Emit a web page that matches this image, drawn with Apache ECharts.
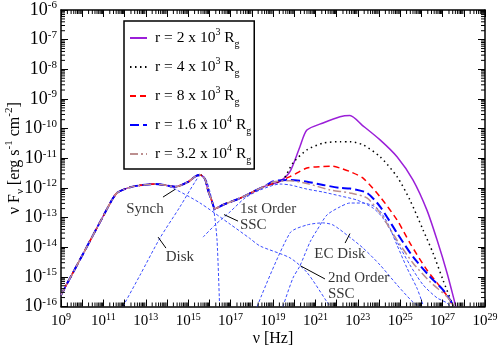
<!DOCTYPE html>
<html><head><meta charset="utf-8">
<script src="https://cdn.jsdelivr.net/npm/echarts@6/dist/echarts.min.js"></script>
<style>html,body{margin:0;padding:0;background:#fff}#c{width:499px;height:345px}</style>
</head><body><div id="c"></div>
<script>
// ---- values (log10 of nu [Hz] and log10 of nuF_nu) ----
const commonLogNu = [9.0, 10.0, 11.0, 11.4, 11.64, 12.0, 12.49, 13.0, 13.43, 14.0, 14.4, 14.99, 15.32, 15.56, 15.79, 15.93, 16.12, 16.26, 16.40, 16.71, 17.44, 18.23, 18.6];
const commonLogF  = [-15.61, -14.28, -12.94, -12.41, -12.17, -12.04, -11.94, -11.89, -11.87, -11.92, -11.96, -11.80, -11.62, -11.56, -11.70, -12.07, -12.45, -12.71, -12.66, -12.55, -12.35, -12.07, -11.95];

const r1LogNu = [19.0, 19.33, 19.80, 20.27, 20.60, 21.36, 22.16, 22.63, 23.20, 24.05, 24.85, 25.60, 26.26, 26.74, 27.21, 27.58, 27.62];
const r1LogF  = [-11.86, -11.78, -11.45, -10.61, -10.05, -9.81, -9.60, -9.56, -9.88, -10.38, -10.95, -11.73, -12.75, -13.76, -14.87, -15.88, -16.0];
const r2LogNu = [19.0, 19.47, 19.94, 20.60, 21.36, 22.16, 22.63, 23.25, 24.05, 24.85, 25.46, 26.08, 26.55, 27.02, 27.44, 27.50];
const r2LogF  = [-11.86, -11.73, -11.16, -10.72, -10.49, -10.44, -10.44, -10.55, -10.95, -11.62, -12.41, -13.42, -14.20, -15.11, -15.88, -16.0];
const r3LogNu = [19.0, 19.80, 20.60, 21.36, 21.8, 22.16, 22.63, 23.25, 24.05, 24.85, 25.46, 26.26, 26.88, 27.35, 27.45];
const r3LogF  = [-11.85, -11.62, -11.33, -11.28, -11.27, -11.33, -11.45, -11.67, -12.30, -13.08, -13.86, -14.77, -15.33, -15.78, -16.0];
const r4LogNu = [19.0, 19.80, 20.60, 21.36, 22.16, 22.63, 23.43, 24.05, 24.85, 25.60, 26.40, 27.02, 27.44, 27.50];
const r4LogF  = [-11.78, -11.73, -11.79, -11.90, -12.00, -12.02, -12.17, -12.63, -13.52, -14.32, -14.99, -15.44, -15.88, -16.0];
const r5LogNu = [19.0, 19.80, 20.60, 21.69, 22.63, 23.43, 24.05, 24.85, 25.60, 26.40, 27.21, 27.44, 27.50];
const r5LogF  = [-11.80, -11.76, -11.85, -12.07, -12.17, -12.34, -12.85, -13.76, -14.53, -15.16, -15.67, -15.88, -16.0];

const synchLogNu = [9.0, 10.0, 11.0, 11.4, 11.64, 12.0, 12.49, 13.0, 13.43, 14.0, 14.46, 15.56, 16.97, 17.9, 18.39, 19.80, 20.60, 21.55, 21.70];
const synchLogF  = [-15.61, -14.28, -12.94, -12.41, -12.17, -12.04, -11.94, -11.89, -11.87, -11.93, -12.07, -12.51, -13.22, -13.70, -13.96, -14.36, -14.85, -15.85, -16.0];
const diskLogNu = [11.92, 12.73, 13.67, 14.61, 15.32, 15.60, 15.84, 16.03, 16.22, 16.36, 16.48];
const diskLogF  = [-16.0, -14.94, -13.69, -12.64, -11.80, -11.56, -11.73, -12.14, -12.81, -13.76, -15.98];
const ssc1LogNu = [15.70, 16.31, 16.97, 17.68, 18.39, 19.33, 19.80, 20.60, 21.36, 22.16, 22.96, 23.72, 24.19, 24.85, 25.46, 26.08, 26.74, 27.21, 27.35];
const ssc1LogF  = [-13.66, -13.22, -12.81, -12.34, -12.07, -11.87, -11.90, -12.04, -12.14, -12.27, -12.41, -12.68, -13.02, -13.82, -14.60, -15.27, -15.71, -15.88, -16.0];
const ssc2LogNu = [19.47, 19.94, 20.27, 20.75, 21.08, 21.55, 22.16, 22.63, 23.25, 23.91, 24.38, 24.85, 25.32, 25.79, 26.08];
const ssc2LogF  = [-16.0, -15.04, -14.63, -13.82, -13.42, -12.91, -12.64, -12.51, -12.51, -12.68, -13.15, -13.93, -14.70, -15.38, -15.95];
const ecDiskLogNu = [18.25, 19.80, 20.60, 21.36, 21.83, 22.49, 23.25, 24.05, 24.85, 25.60, 25.93];
const ecDiskLogF  = [-16.0, -13.52, -13.25, -13.18, -13.25, -13.59, -14.03, -14.60, -15.27, -15.85, -16.0];

const legendNames = ['r = 2 x 10^3', 'r = 4 x 10^3', 'r = 8 x 10^3', 'r = 1.6 x 10^4', 'r = 3.2 x 10^4'];
const legendMain  = ['r = 2 x 10', 'r = 4 x 10', 'r = 8 x 10', 'r = 1.6 x 10', 'r = 3.2 x 10'];
const legendExp   = ['3', '3', '3', '4', '4'];

const noteTexts  = ['Synch', 'Disk', '1st Order\nSSC', 'EC Disk', '2nd Order\nSSC'];
const noteLogNu  = [12.96, 14.61, 17.44, 22.16, 21.59];
const noteLogF   = [-12.71, -14.32, -12.98, -14.24, -15.32];
const noteAlign  = ['center', 'center', 'left', 'center', 'left'];
const arrowTail  = [[13.81, -12.31], [13.95, -14.03], [17.35, -13.12], [22.40, -13.86], [21.45, -15.07]];
const arrowTip   = [[14.38, -12.05], [13.58, -13.66], [16.69, -12.90], [22.63, -13.54], [20.30, -14.63]];

const xMinLog = 9, xMaxLog = 29, yMinLog = -16, yMaxLog = -6;

// ---- build ----
const P = v => Math.pow(10, v);
const pts = (lx, ly) => lx.map((x, i) => [P(x), P(ly[i])]);
const total = (lx, ly) => pts(commonLogNu.concat(lx), commonLogF.concat(ly));

const serif = 'Liberation Serif, Times New Roman, serif';
const xMinor = [], yMinor = [];
for (let d = xMinLog; d < xMaxLog; d++) for (let m = 2; m <= 9; m++) xMinor.push([m * P(d), P(yMinLog)]);
for (let d = yMinLog; d < yMaxLog; d++) for (let m = 2; m <= 9; m++) yMinor.push([P(xMinLog), m * P(d)]);

function expOf(v) { return Math.log10(v); }
function xLab(v) { const e = expOf(v), r = Math.round(e); if (Math.abs(e - r) > 1e-6 || (r % 2) === 0) return ''; return '{b|10}{s|' + r + '}'; }
function yLab(v) { const e = expOf(v), r = Math.round(e); if (Math.abs(e - r) > 1e-6) return ''; return '{b|10}{s|' + r + '}'; }

const axisCommon = {
  type: 'log', logBase: 10, interval: 1,
  axisLine: { onZero: false, lineStyle: { color: '#000', width: 1.5 } },
  axisTick: { inside: true, length: 7, interval: 0, lineStyle: { color: '#000', width: 1 } },
  splitLine: { show: false },
  minorTick: { show: false }
};

const compStyle = { color: '#3a4cff', width: 1, type: [3, 2] };
function comp(name, lx, ly) {
  return { name, type: 'line', data: pts(lx, ly), symbol: 'none', smooth: 0.25, lineStyle: compStyle, z: 2, silent: true };
}
function tot(name, lx, ly, color, width, type, z) {
  return { name, type: 'line', data: total(lx, ly), symbol: 'none', smooth: 0.25,
    itemStyle: { color }, lineStyle: { color, width, type }, z };
}

const chart = echarts.init(document.getElementById('c'), null, { renderer: 'canvas' });
chart.setOption({
  animation: false,
  backgroundColor: '#fff',
  grid: { left: 61, right: 14, top: 10, bottom: 38.5, containLabel: false, outerBoundsMode: 'none' },
  xAxis: [
    Object.assign({}, axisCommon, {
      position: 'bottom', min: P(xMinLog), max: P(xMaxLog), splitNumber: 20,
      axisLabel: { interval: 0, margin: 6, color: '#000', showMinLabel: true, showMaxLabel: true, hideOverlap: false,
        formatter: xLab,
        rich: { b: { fontFamily: serif, fontSize: 15, lineHeight: 18, color: '#000' },
                s: { fontFamily: serif, fontSize: 10, lineHeight: 10, verticalAlign: 'top', color: '#000' } } },
      name: 'ν [Hz]', nameLocation: 'middle', nameGap: 24, nameMoveOverlap: false,
      nameTextStyle: { fontFamily: serif, fontSize: 16, color: '#000' }
    }),
    Object.assign({}, axisCommon, {
      position: 'top', min: P(xMinLog), max: P(xMaxLog), splitNumber: 20,
      axisLabel: { show: false }
    })
  ],
  yAxis: [
    Object.assign({}, axisCommon, {
      position: 'left', min: P(yMinLog), max: P(yMaxLog), splitNumber: 10,
      axisLabel: { interval: 0, margin: 4, color: '#000', showMinLabel: true, showMaxLabel: true, hideOverlap: false,
        formatter: yLab,
        rich: { b: { fontFamily: serif, fontSize: 18, lineHeight: 20, color: '#000' },
                s: { fontFamily: serif, fontSize: 11, lineHeight: 11, verticalAlign: 'top', color: '#000' } } },
      name: '{t|ν F}{d|ν}{t| [erg s}{u|-1}{t| cm}{u|-2}{t|]}', nameLocation: 'middle', nameGap: 35, nameRotate: 90,
      nameMoveOverlap: false,
      nameTextStyle: { fontFamily: serif, fontSize: 16, color: '#000',
        rich: { t: { fontFamily: serif, fontSize: 16, lineHeight: 22, color: '#000' },
                d: { fontFamily: serif, fontSize: 11, lineHeight: 11, verticalAlign: 'bottom', color: '#000' },
                u: { fontFamily: serif, fontSize: 11, lineHeight: 11, verticalAlign: 'top', color: '#000' } } }
    }),
    Object.assign({}, axisCommon, {
      position: 'right', min: P(yMinLog), max: P(yMaxLog), splitNumber: 10,
      axisLabel: { show: false }
    })
  ],
  legend: {
    data: legendNames, orient: 'vertical', left: 124, top: 21,
    backgroundColor: '#fff', borderColor: '#000', borderWidth: 1.5, borderRadius: 0,
    padding: [6, 3, 4, 5], itemGap: 7, itemWidth: 17, itemHeight: 10,
    itemStyle: { opacity: 0 },
    formatter: name => { const i = legendNames.indexOf(name); return '{t|' + legendMain[i] + '}{u|' + legendExp[i] + '}{t| R}{d|g}'; },
    textStyle: { padding: [0, 0, 0, 3], color: '#000',
      rich: { t: { fontFamily: serif, fontSize: 15.5, lineHeight: 22, color: '#000' },
              u: { fontFamily: serif, fontSize: 10, lineHeight: 10, verticalAlign: 'top', color: '#000' },
              d: { fontFamily: serif, fontSize: 10, lineHeight: 10, verticalAlign: 'bottom', color: '#000' } } }
  },
  series: [
    comp('synch', synchLogNu, synchLogF),
    comp('disk', diskLogNu, diskLogF),
    comp('ssc1', ssc1LogNu, ssc1LogF),
    comp('ssc2', ssc2LogNu, ssc2LogF),
    comp('ecdisk', ecDiskLogNu, ecDiskLogF),
    tot(legendNames[0], r1LogNu, r1LogF, '#9b1fd8', 1.5, 'solid', 5),
    tot(legendNames[1], r2LogNu, r2LogF, '#000000', 1.5, [1.5, 3.5], 6),
    tot(legendNames[2], r3LogNu, r3LogF, '#ff0000', 1.5, [6, 4], 7),
    tot(legendNames[3], r4LogNu, r4LogF, '#0000ff', 2, [9, 4], 8),
    tot(legendNames[4], r5LogNu, r5LogF, '#bc8f8f', 1.5, [8, 3, 2, 3], 9),
    {
      name: 'notes', type: 'scatter', symbolSize: 0, z: 10, silent: true,
      data: noteTexts.map((t, i) => ({ value: [P(noteLogNu[i]), P(noteLogF[i])],
        label: { show: true, position: 'inside', formatter: t, align: noteAlign[i], verticalAlign: 'middle',
          fontFamily: serif, fontSize: 15, lineHeight: 16, color: '#000' } })),
      markLine: { silent: true, animation: false, symbol: ['none', 'arrow'], symbolSize: [0, 7], precision: 20,
        label: { show: false }, lineStyle: { color: '#000', width: 1, type: 'solid' },
        data: arrowTail.map((a, i) => [{ coord: [P(a[0]), P(a[1])] }, { coord: [P(arrowTip[i][0]), P(arrowTip[i][1])] }]) }
    },
    {
      name: 'xminor', type: 'custom', silent: true, clip: false, data: xMinor, z: 11,
      renderItem: (params, api) => {
        const b = api.coord([api.value(0), P(yMinLog)]);
        const t = api.coord([api.value(0), P(yMaxLog)]);
        return { type: 'group', children: [
          { type: 'line', shape: { x1: b[0], y1: b[1], x2: b[0], y2: b[1] - 4 }, style: { stroke: '#000', lineWidth: 1 } },
          { type: 'line', shape: { x1: t[0], y1: t[1], x2: t[0], y2: t[1] + 4 }, style: { stroke: '#000', lineWidth: 1 } } ] };
      }
    },
    {
      name: 'yminor', type: 'custom', silent: true, clip: false, data: yMinor, z: 11,
      renderItem: (params, api) => {
        const l = api.coord([P(xMinLog), api.value(1)]);
        const r = api.coord([P(xMaxLog), api.value(1)]);
        return { type: 'group', children: [
          { type: 'line', shape: { x1: l[0], y1: l[1], x2: l[0] + 4, y2: l[1] }, style: { stroke: '#000', lineWidth: 1 } },
          { type: 'line', shape: { x1: r[0], y1: r[1], x2: r[0] - 4, y2: r[1] }, style: { stroke: '#000', lineWidth: 1 } } ] };
      }
    }
  ]
});
</script></body></html>
